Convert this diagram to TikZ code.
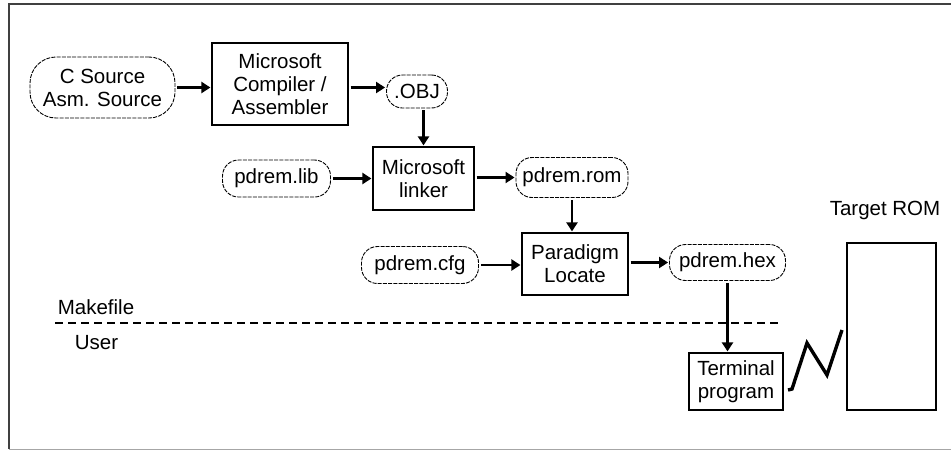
\documentclass[tikz,border=0pt]{standalone}
\usepackage{fontspec}
\setmainfont{Liberation Sans}
\usetikzlibrary{shapes.geometric,arrows.meta,calc}
\begin{document}
\begin{tikzpicture}[x=1pt,y=1pt,
  font=\fontsize{20.5}{23}\selectfont,
  file/.style={rectangle,rounded corners=16pt,draw,line width=0.9pt,dash pattern=on 4pt off 1.2pt,inner sep=0pt,align=center},
  proc/.style={rectangle,draw,line width=1.2pt,inner sep=0pt,align=center},
  flow/.style={line width=2.8pt,-{Triangle[length=9pt,width=11pt]},shorten <=2pt,shorten >=1pt},
  lbl/.style={inner sep=0pt}]
\useasboundingbox (0,0) rectangle (951,-451);
% frame
\draw[line width=2.5pt,black!75] (9,-449) -- (9,-4) -- (951,-4);
\draw[line width=1pt,black!35] (9,-449) -- (951,-449);
% nodes
\node[file,rounded corners=26pt,minimum width=145pt,minimum height=61pt] (src) at (102.5,-87.5) {C Source\\Asm. Source};
\node[proc,minimum width=136pt,minimum height=82pt] (comp) at (280,-84) {Microsoft\\Compiler /\\Assembler};
\node[file,minimum width=61pt,minimum height=33pt] (obj) at (417,-91.5) {.OBJ};
\node[file,minimum width=108pt,minimum height=37pt] (lib) at (276.5,-178.5) {pdrem.lib};
\node[proc,minimum width=101pt,minimum height=63pt] (link) at (423.5,-178.5) {Microsoft\\linker};
\node[file,minimum width=112pt,minimum height=40pt] (rom) at (572,-177.5) {pdrem.rom};
\node[file,minimum width=117pt,minimum height=37pt] (cfg) at (420,-265) {pdrem.cfg};
\node[proc,minimum width=106pt,minimum height=62pt] (para) at (575,-264) {Paradigm\\Locate};
\node[file,minimum width=116pt,minimum height=36pt] (hex) at (727.5,-262.5) {pdrem.hex};
\node[proc,minimum width=94pt,minimum height=57pt] (term) at (736,-381.5) {Terminal\\program};
\node[proc,minimum width=89pt,minimum height=167pt] (trom) at (891.5,-326.5) {};
\node[lbl] (troml) at (885,-210) {Target ROM};
\node[lbl] (mk) at (96,-307) {Makefile};
\node[lbl] (usr) at (96.5,-343) {User};
% separator
\coordinate (sepA) at (55,-323);
\coordinate (sepB) at (782,-323);
\draw[line width=1.2pt,dash pattern=on 8pt off 5pt] (sepA) -- (sepB);
% connectors
\draw[flow] (src.east) -- (src.east -| comp.west);
\draw[flow] (comp.east |- src.east) -- (obj.west |- src.east);
\draw[flow] (link.north |- obj.south) -- (link.north);
\draw[flow] (lib.east) -- (lib.east -| link.west);
\draw[flow] (link.east |- rom.west) -- (rom.west);
\draw[flow] (rom.south) -- (rom.south |- para.north);
\draw[flow] (cfg.east) -- (cfg.east -| para.west);
\draw[flow] (para.east |- hex.west) -- (hex.west);
\draw[flow] (hex.south) -- (hex.south |- term.north);
% zigzag link
\coordinate (z1) at (788,-390);
\coordinate (z2) at (792,-389);
\coordinate (z3) at (807,-343);
\coordinate (z4) at (827,-375);
\coordinate (z5) at (842,-330);
\draw[line width=3.4pt,line join=miter] (z1) -- (z2) -- (z3) -- (z4) -- (z5);
\end{tikzpicture}
\end{document}
